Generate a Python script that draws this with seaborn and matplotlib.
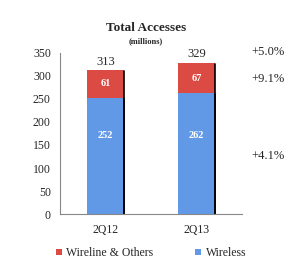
import pandas as pd
import numpy as np
import matplotlib.pyplot as plt
import seaborn as sns

quarters = ["2Q12", "2Q13"]
wireless = [252, 262]
wireline = [61, 67]
growth = ["+5.0%", "+9.1%", "+4.1%"]

df = pd.DataFrame({"quarter": quarters, "Wireless": wireless, "Wireline & Others": wireline})
df["total"] = df["Wireless"] + df["Wireline & Others"]

sns.set_style("white")
plt.rcParams['font.family'] = ['Liberation Serif', 'DejaVu Serif']

fig = plt.figure(figsize=(2.92, 2.62), dpi=100)
ax = fig.add_axes([0.205, 0.183, 0.624, 0.615])

sns.barplot(x="quarter", y="total", data=df, color="#dc4a44", width=0.4, saturation=1,
            edgecolor="none", label="Wireline & Others", ax=ax)
sns.barplot(x="quarter", y="Wireless", data=df, color="#6299e6", width=0.4, saturation=1,
            edgecolor="none", label="Wireless", ax=ax)

# shadow on right edge of bars
for p in ax.patches:
    ax.plot([p.get_x() + p.get_width(), p.get_x() + p.get_width()],
            [0, p.get_height() - 2], color="black", lw=1.2, zorder=1)

for i, row in df.iterrows():
    ax.text(i, row["total"] + 5, str(row["total"]), ha="center", va="bottom", fontsize=9)
    ax.text(i, row["Wireless"] + row["Wireline & Others"] / 2, str(row["Wireline & Others"]),
            ha="center", va="center", fontsize=7.5, color="white", fontweight="bold")
    ax.text(i, 170, str(row["Wireless"]), ha="center", va="center", fontsize=7.5,
            color="white", fontweight="bold")

ax.text(1.05, 1.005, growth[0], transform=ax.transAxes, fontsize=9, va="center")
ax.text(1.05, 0.84, growth[1], transform=ax.transAxes, fontsize=9, va="center")
ax.text(1.05, 0.36, growth[2], transform=ax.transAxes, fontsize=9, va="center")

ax.set_ylim(0, 350)
ax.set_xlim(-0.5, 1.5)
ax.set_yticks(range(0, 351, 50))
ax.set_xticks([-0.5, 0.5, 1.5], minor=True)
ax.tick_params(axis="x", which="major", length=0, labelsize=8.5, pad=7)
ax.tick_params(axis="x", which="minor", length=3, direction="out", color="#888888")
ax.tick_params(axis="y", length=3, direction="out", color="#888888", labelsize=8.5)
ax.set_xlabel("")
ax.set_ylabel("")
for s in ["top", "right"]:
    ax.spines[s].set_visible(False)
for s in ["left", "bottom"]:
    ax.spines[s].set_color("#888888")
    ax.spines[s].set_linewidth(0.8)

fig.text(0.5, 0.88, "Total Accesses", ha="center", fontsize=9.5, fontweight="bold")
fig.text(0.5, 0.835, "(millions)", ha="center", fontsize=6, fontweight="bold")

ax.legend(loc="upper center", bbox_to_anchor=(0.5, -0.14), ncol=2, frameon=False,
          fontsize=8.5, handlelength=0.5, handleheight=0.5, columnspacing=3.5, handletextpad=0.4)

plt.savefig("out.png", dpi=100)
